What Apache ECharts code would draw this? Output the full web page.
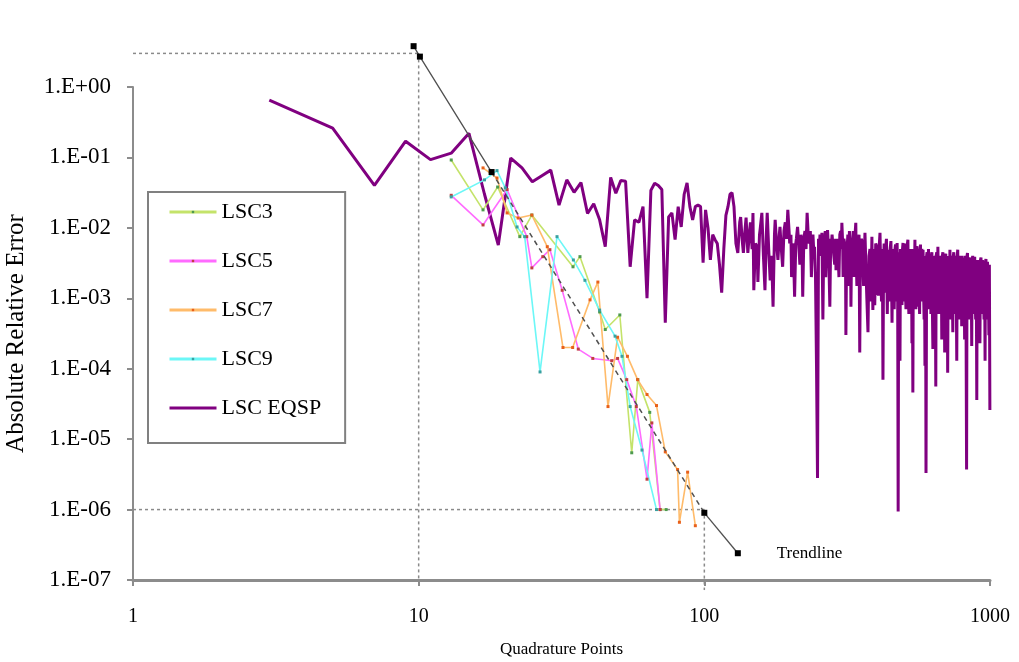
<!DOCTYPE html>
<html>
<head>
<meta charset="utf-8">
<script src="https://cdn.jsdelivr.net/npm/echarts@6/dist/echarts.min.js"></script>
<style>html,body{margin:0;padding:0;background:#fff;}#chart{width:1019px;height:662px;}</style>
</head>
<body>
<div id="chart"></div>
<script>
// ---- data ----
const xTickLabels = ['1', '10', '100', '1000'];
const yTickLabels = ['1.E-07', '1.E-06', '1.E-05', '1.E-04', '1.E-03', '1.E-02', '1.E-01', '1.E+00'];
const seriesNames = ['LSC3', 'LSC5', 'LSC7', 'LSC9', 'LSC EQSP'];
const xAxisTitle = 'Quadrature Points';
const yAxisTitle = 'Absolute Relative Error';
const trendLabel = 'Trendline';

const lsc3 = [[13,0.092],[16.8,0.018],[18.9,0.038],[22.6,0.0075],[24.9,0.0152],[34.7,0.0028],[36.7,0.0039],[43,0.00064],[45,0.00036],[50.6,0.00058],[55.7,6.4e-6],[58.5,7e-5],[64.4,2.4e-5],[70,1e-6],[73.5,1e-6]];
const lsc5 = [[13,0.029],[16.8,0.011],[20.4,0.035],[23.9,0.0075],[24.9,0.0027],[27.2,0.0039],[28.8,0.0049],[31.8,0.0013],[36.2,0.00019],[40.7,0.00014],[47.4,0.00013],[49.7,0.00014],[53.5,7e-5],[57.8,2.9e-5],[63,2.7e-6],[65.5,1.7e-5],[70,1e-6]];
const lsc7 = [[16.8,0.071],[18.8,0.051],[20.4,0.0163],[22.3,0.0138],[24.9,0.0152],[28.2,0.0054],[32,0.0002],[34.6,0.0002],[39.8,0.00095],[42.4,0.0017],[46,2.9e-5],[49.7,0.00028],[53.8,0.00015],[58.4,7e-5],[63,4.3e-5],[68,3e-5],[73,6.6e-6],[80.6,3.7e-6],[81.8,6.6e-7],[87.4,3.4e-6],[93,5.9e-7]];
const lsc9 = [[13,0.0275],[17,0.048],[18.8,0.065],[20.1,0.037],[22.1,0.0103],[23.5,0.0075],[26.6,9e-5],[30.5,0.0075],[34.8,0.0035],[38.2,0.0018],[43,0.00068],[48.7,0.00029],[51.5,0.00015],[55,2.9e-5],[60.5,7e-6],[68,1e-6]];
const lscEqsp = [[3,0.65],[5,0.26],[7,0.04],[9,0.17],[11,0.093],[13,0.115],[15,0.22],[17,0.03],[19,0.0057],[21,0.098],[23,0.071],[25,0.045],[27,0.055],[29,0.066],[31,0.021],[33,0.048],[35,0.032],[37,0.044],[39,0.016],[41,0.022],[43,0.013],[45,0.0054],[47,0.052],[49,0.031],[51,0.047],[53,0.046],[55,0.0028],[57,0.013],[59,0.012],[61,0.02],[63,0.001],[65,0.034],[67,0.043],[69,0.04],[71,0.035],[73,0.00045],[75,0.0143],[77,0.0163],[79,0.0068],[81,0.02],[83,0.0103],[85,0.03],[87,0.0435],[89,0.02],[91,0.013],[93,0.02],[95,0.021],[97,0.02],[99,0.0032],[101,0.018],[103,0.01],[105,0.0035],[107,0.008],[109,0.0068],[111,0.006],[113,0.003],[115,0.0012],[117,0.005],[119,0.015],[121,0.02],[123,0.03],[125,0.0316],[127,0.02],[129,0.006],
[131,0.0044],[133,0.012],[134,0.0142],[136,0.006],[137,0.0044],[139,0.01],[140,0.014],[142,0.0044],[144,0.009],[145,0.012],[147,0.005],[148,0.0163],[149,0.0013],[151,0.006],[153,0.0054],[154,0.0017],[156,0.008],[157,0.01],[159,0.0163],[161,0.004],[163,0.0013],[165,0.009],[166,0.0163],[168,0.005],[170,0.0018],[172,0.004],[174,0.00076],[176,0.008],[177,0.013],[179,0.006],[181,0.0035],[183,0.008],[184,0.0103],[186,0.005],[188,0.0028],[190,0.009],[192,0.012],[194,0.007],[196,0.018],[198,0.009],[199,0.006],[201,0.008],[202,0.002],[204,0.006],[205,0.005],[207,0.00105],[209,0.006],[210,0.007],[212,0.0103],[214,0.006],[216,0.003],[218,0.008],[220,0.004],[221,0.00105],[223,0.007],[225,0.009],[227,0.005],[229,0.0163],[231,0.008],[233,0.006],[235,0.009],[237,0.002],[239,0.007],[240,0.008],[242,0.004],[243,0.0054],[245,0.002],[247,0.00011],[249,2.8e-6],[251,0.007],[252,0.004],[254,0.008],[255,0.006],[257,0.004],[258,0.0085],[260,0.0005],[262,0.007],[263,0.006],[265,0.009],[266,0.002],[268,0.006],[270,0.0093],[272,0.005],[273,0.003],[275,0.00076],[277,0.007],[278,0.005],[280,0.008],[282,0.0075],[284,0.004],[286,0.003],[288,0.007],[289,0.0025],[291,0.006],[292,0.007],[294,0.004],[296,0.002],[298,0.008],[300,0.009],[302,0.005],[303,0.0118],[305,0.006],[306,0.002],[308,0.007],[310,0.006],[312,0.004],[313,0.0003],[315,0.006],[316,0.005],[318,0.008],[320,0.0015],[322,0.009],[323,0.007],[325,0.004],[326,0.00076],[328,0.007],[330,0.006],[332,0.009],[334,0.002],[336,0.006],[337,0.008],[339,0.0118],[340,0.004],[342,0.0015],[344,0.007],[346,0.006],[348,0.008],[350,0.00017],[352,0.005],[355,0.007],
[357,0.006],[361,0.0015],[365,0.0085],[370,0.0012],[374,0.00033],[377,0.004],[380,0.005],[383,0.0009],[386,0.0075],[389,0.00068],[392,0.005],[395,0.0008],[398,0.006],[402,0.0054],[404,0.0012],[407,0.0011],[410,0.006],[412,0.0085],[415,0.002],[417,0.0009],[420,0.005],[422,0.00007],[424,0.003],[426,0.006],[429,0.0012],[431,0.005],[434,0.007],[437,0.0006],[440,0.0049],[442,0.0015],[445,0.0009],[447,0.005],[450,0.0065],[452,0.002],[454,0.00045],[456,0.005],[458,0.004],[460,0.0012],[462,0.0007],[465,0.005],[467,0.0058],[470,0.0009],[473,0.0061],[475,0.002],[477,9.4e-7],[479,0.004],[481,0.0045],[484,0.00013],[486,0.005],[488,0.005],[490,0.0015],[492,0.0008],[494,0.005],[496,0.0061],[498,0.0015],[500,0.0009],[502,0.006],[504,0.0055],[506,0.0012],[508,0.0007],[510,0.005],[512,0.00146],[514,0.006],[516,0.0068],[518,0.001],[520,0.0006],[522,0.005],[524,0.0052],[526,0.0012],[528,0.0008],[531,0.005],[533,0.00023],[535,0.003],[537,0.000046],[539,0.004],[541,0.005],[543,0.0012],[546,0.0068],[548,0.0015],[550,0.0007],[552,0.005],[555,0.0055],[557,0.0012],[559,0.00076],[561,0.004],[563,0.005],[565,0.001],[567,0.0006],[569,0.005],[571,0.0058],[573,0.0012],[575,0.0009],[577,0.005],[579,0.0045],[581,0.003],[583,0.0049],[586,0.001],[588,0.0005],[590,0.003],[592,0.00011],[595,0.004],[597,3.3e-6],[600,0.004],[602,0.0045],[604,0.0012],[606,0.0007],[609,0.005],[611,0.005],[613,0.0015],[616,0.0035],[618,0.004],[621,0.0006],[623,0.004],[626,0.0045],[628,0.001],[631,0.00019],[633,0.004],[636,0.004],[638,0.0012],[641,0.0008],[643,0.004],[646,0.000056],[648,0.004],[651,0.0045],[654,0.0012],[657,0.0054],[659,0.002],[662,0.0006],[664,0.004],[667,0.0042],[670,0.0012],[673,0.0007],[675,0.004],[678,0.00026],[681,0.004],[684,0.0045],[686,0.001],[689,0.0006],[691,0.004],[694,0.00017],[697,0.004],[700,0.0043],[702,0.0012],[705,0.0006],[708,0.004],[711,0.000088],[714,0.004],[717,0.004],[720,0.001],[724,0.0049],[727,0.0012],[730,0.0005],[733,0.004],[736,0.004],[738,0.0015],[741,0.00033],[744,0.004],[747,0.0045],[750,0.001],[753,0.0006],[756,0.0035],[759,0.004],[762,0.0012],[765,0.00013],[768,0.004],[771,0.0049],[774,0.001],[777,0.0005],[780,0.004],[783,0.0042],[786,0.001],[790,0.0006],[793,0.0035],[796,0.0004],[799,0.004],[802,0.0042],[805,0.001],[808,0.0005],[811,0.0035],[815,0.00026],[818,0.0035],[821,0.004],[824,0.001],[828,3.7e-6],[831,0.004],[834,0.0044],[838,0.001],[841,0.0005],[844,0.0035],[848,0.0038],[852,0.001],[856,0.0006],[859,0.0035],[863,0.00021],[866,0.0035],[870,0.004],[873,0.001],[877,0.0006],[880,0.0035],[884,0.0039],[887,0.001],[891,0.0005],[895,0.0035],[899,0.000036],[902,0.0035],[906,0.0036],[910,0.001],[914,0.0004],[918,0.0035],[922,0.00023],[926,0.0035],[930,0.0038],[934,0.001],[938,0.0006],[941,0.0035],[945,0.0035],[949,0.001],[953,0.0005],[957,0.0033],[961,0.00013],[964,0.0033],[968,0.0036],[972,0.001],[976,0.0005],[980,0.0033],[984,0.0035],[988,0.001],[991,0.0003],[995,0.003],[999,0.000026]];

// trendline pieces and guide lines
const trendHead = [[9.6,3.8],[10.1,2.7],[18,0.062]];
const trendMid = [[18,0.062],[100,9e-7]];
const trendTail = [[100,9e-7],[131,2.4e-7]];
const guideTop = [[1,3],[10,3]];
const guideX10 = [[10,3],[10,1e-7]];
const guideLow = [[1,1e-6],[100,1e-6]];
const guideX100 = [[100,1e-6],[100,7.2e-8]];

// ---- chart ----
const serif = 'Liberation Serif, Times New Roman, serif';
const chart = echarts.init(document.getElementById('chart'), null, {renderer: 'canvas'});

function lscSeries(name, data, color, markColor) {
  return {
    name: name, type: 'line', data: data,
    symbol: 'rect', symbolSize: 3, showSymbol: true,
    lineStyle: {color: color, width: 1.6},
    itemStyle: {color: markColor},
    z: 3, clip: false, animation: false
  };
}
function guide(data) {
  return {type: 'line', data: data, symbol: 'none', silent: true, clip: false,
    lineStyle: {color: '#8a8a8a', width: 1.5, type: [3, 3]}, z: 1, animation: false};
}

const option = {
  backgroundColor: '#ffffff',
  animation: false,
  grid: {left: 133, top: 87, right: 29, bottom: 82, containLabel: false, outerBoundsMode: 'none'},
  legend: {
    data: seriesNames.map(n => n === 'LSC EQSP' ? {name: n, icon: 'rect'} : {name: n}),
    orient: 'vertical',
    left: 148, top: 192,
    padding: [9, 24, 24, 20],
    itemGap: 27,
    itemWidth: 47, itemHeight: 3,
    lineStyle: {width: 3},
    borderColor: '#808080', borderWidth: 2,
    backgroundColor: '#ffffff',
    textStyle: {fontFamily: serif, fontSize: 22, color: '#000'}
  },
  xAxis: {
    type: 'log', logBase: 10, min: 1, max: 1000,
    name: xAxisTitle, nameLocation: 'middle', nameGap: 61,
    nameTextStyle: {fontFamily: serif, fontSize: 17, color: '#000'},
    axisLine: {lineStyle: {color: '#8c8c8c', width: 3}},
    axisTick: {show: true, length: 6, lineStyle: {color: '#8c8c8c', width: 2}},
    minorTick: {show: false},
    splitLine: {show: false},
    axisLabel: {
      margin: 27, fontFamily: serif, fontSize: 20, color: '#000',
      showMinLabel: true, showMaxLabel: true,
      formatter: v => xTickLabels[Math.round(Math.log10(v))]
    }
  },
  yAxis: {
    type: 'log', logBase: 10, min: 1e-7, max: 1,
    name: yAxisTitle, nameLocation: 'middle', nameGap: 104,
    nameTextStyle: {fontFamily: serif, fontSize: 25, color: '#000'},
    axisLine: {show: true, lineStyle: {color: '#8c8c8c', width: 2}},
    axisTick: {show: true, length: 6, lineStyle: {color: '#8c8c8c', width: 2}},
    minorTick: {show: false},
    splitLine: {show: false},
    axisLabel: {
      margin: 22, fontFamily: serif, fontSize: 23, color: '#000',
      showMinLabel: true, showMaxLabel: true,
      formatter: v => yTickLabels[Math.round(Math.log10(v)) + 7]
    }
  },
  series: [
    guide(guideTop), guide(guideX10), guide(guideLow), guide(guideX100),
    {name: 'LSC EQSP', type: 'line', data: lscEqsp, symbol: 'none', clip: false,
      lineStyle: {color: '#800080', width: 3}, itemStyle: {color: '#800080'}, z: 2},
    lscSeries('LSC3', lsc3, '#c4e36a', '#4e9a4e'),
    lscSeries('LSC5', lsc5, '#ff6bff', '#c04040'),
    lscSeries('LSC7', lsc7, '#ffbb6a', '#e8601a'),
    lscSeries('LSC9', lsc9, '#6cf7f7', '#3aa0a0'),
    {type: 'line', data: trendHead, clip: false, symbol: 'rect', symbolSize: 6, showSymbol: true,
      itemStyle: {color: '#000'}, lineStyle: {color: '#505050', width: 1.3}, z: 5},
    {type: 'line', data: trendMid, clip: false, symbol: 'none',
      lineStyle: {color: '#505050', width: 1.5, type: [5, 4]}, z: 5},
    {type: 'line', clip: false, symbol: 'rect', symbolSize: 6, showSymbol: true,
      itemStyle: {color: '#000'}, lineStyle: {color: '#505050', width: 1.3}, z: 5,
      data: [trendTail[0], {value: trendTail[1], label: {show: true, position: 'right', distance: 36,
        formatter: trendLabel, fontFamily: serif, fontSize: 17, color: '#000'}}]}
  ]
};
chart.setOption(option);
</script>
</body>
</html>
